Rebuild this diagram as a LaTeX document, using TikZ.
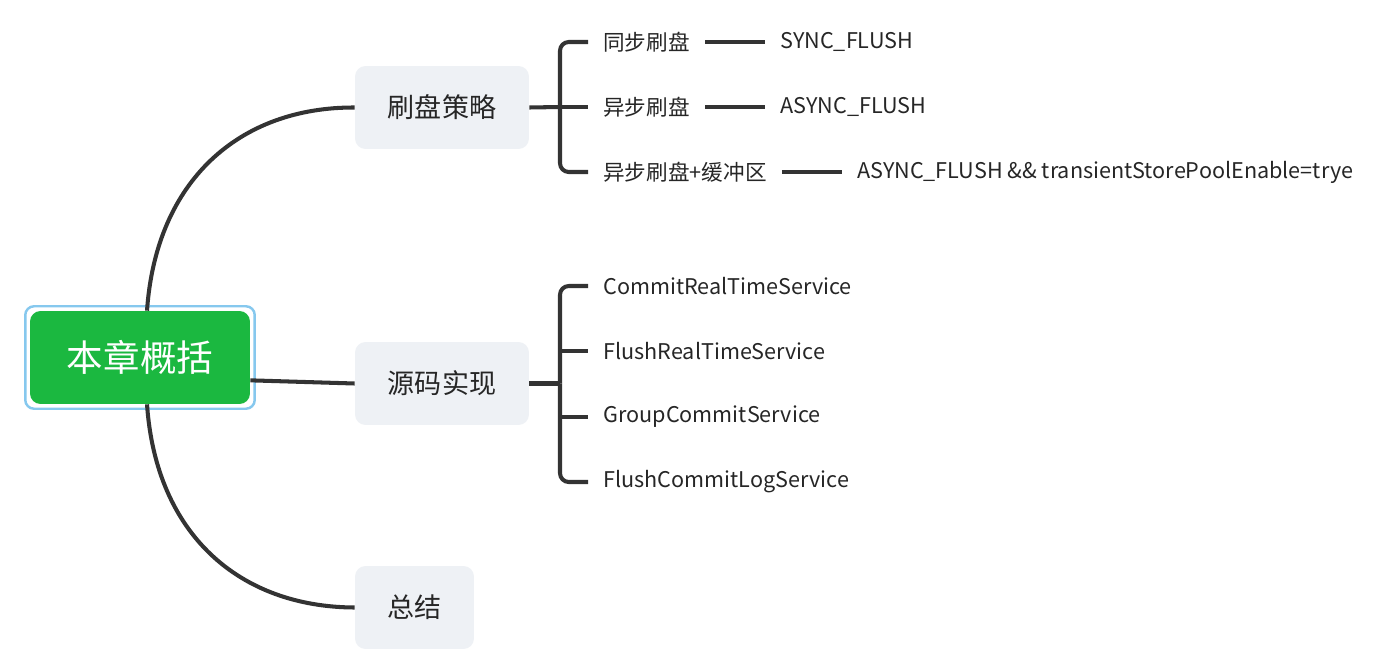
\documentclass[tikz,border=0pt]{standalone}
\usepackage{fontspec}
\setmainfont{Noto Sans CJK SC}
\usetikzlibrary{positioning}
\usetikzlibrary{fit}
\definecolor{rootgreen}{HTML}{1BB840}
\definecolor{selblue}{HTML}{86C8EE}
\definecolor{topicfill}{HTML}{EEF1F5}
\definecolor{linkgray}{HTML}{333333}
\tikzset{
  % the central topic
  roottopic/.style={
    fill=rootgreen, text=white, rounded corners=6pt, font=\fontsize{20.8}{24}\selectfont,
    minimum width=4.4cm, minimum height=1.86cm, inner sep=0pt},
  % selection frame round the central topic
  rootframe/.style={draw=selblue, line width=1.4pt, rounded corners=5pt, inner sep=2.5pt},
  % a main branch
  topic/.style={
    fill=topicfill, rounded corners=6pt, font=\fontsize{15.4}{18}\selectfont,
    minimum height=1.66cm, inner sep=0pt, text=black!85},
  % leaves and their values
  leaf/.style={font=\fontsize{12.3}{14}\selectfont, inner xsep=0.3cm, inner ysep=2pt, anchor=west, text=black!85},
  link/.style={draw=linkgray, line width=2.3pt},
  bracket/.style={draw=linkgray, line width=2.3pt, rounded corners=5pt},
}

\begin{document}
\begin{tikzpicture}[x=0.02cm, y=-0.02cm]
  \useasboundingbox (0,0) rectangle (1400,666);

  \node[roottopic] (root) at (140,357.5) {本章概括};
  \node[rootframe, fit=(root)] (rootsel) {};

  \node[topic, minimum width=3.48cm] (flush) at (442,107.5) {刷盘策略};
  \node[topic, minimum width=3.48cm] (impl) at (442,383.5) {源码实现};
  \node[topic, minimum width=2.38cm] (sum) at (414.5,607.5) {总结};

  % curves from the root
  \draw[link] ([xshift=4]root.north) .. controls (156,180) and (240,107) .. (flush.west);
  \draw[link] ([yshift=-13]root.east) -- (impl.west);
  \draw[link] ([xshift=4]root.south) .. controls (156,535) and (240,607) .. (sum.west);

  % strategies
  \node[leaf] (sync) at (588,42) {同步刷盘};
  \node[leaf] (async) at (588,107) {异步刷盘};
  \node[leaf] (asyncbuf) at (588,172) {异步刷盘+缓冲区};
  \node[leaf, right=1.2cm of sync] (syncv) {SYNC\_FLUSH};
  \node[leaf, right=1.2cm of async] (asyncv) {ASYNC\_FLUSH};
  \node[leaf, right=1.2cm of asyncbuf] (asyncbufv) {ASYNC\_FLUSH \&\& transientStorePoolEnable=trye};

  \coordinate (j1) at (560,107);
  \draw[link] (flush.east) -- (j1);
  \draw[bracket] (j1) |- (sync.west);
  \draw[bracket] (j1) |- (asyncbuf.west);
  \draw[link] (j1) -- (async.west);
  \draw[link] (sync) -- (syncv);
  \draw[link] (async) -- (asyncv);
  \draw[link] (asyncbuf) -- (asyncbufv);

  % services
  \node[leaf] (commit) at (588,286) {CommitRealTimeService};
  \node[leaf] (flushrt) at (588,351) {FlushRealTimeService};
  \node[leaf] (group) at (588,417) {GroupCommitService};
  \node[leaf] (flushlog) at (588,482) {FlushCommitLogService};

  \coordinate (j2) at (560,383.5);
  \draw[link] (impl.east) -- (j2);
  \draw[bracket] (j2) |- (commit.west);
  \draw[bracket] (j2) |- (flushlog.west);
  \draw[link] (560,351) -- (flushrt.west);
  \draw[link] (560,417) -- (group.west);

\end{tikzpicture}
\end{document}
